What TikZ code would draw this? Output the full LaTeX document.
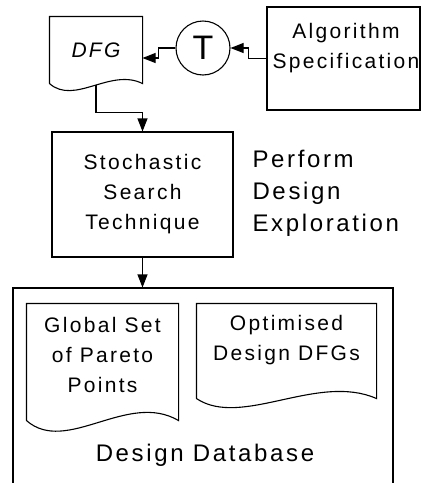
\documentclass[tikz,border=0pt]{standalone}
\usepackage{fontspec}
\setmainfont{Liberation Sans}[LetterSpace=11]
\usetikzlibrary{arrows.meta,calc}
\begin{document}
\begin{tikzpicture}[x=1pt,y=-1pt,line width=1.1pt,
  box/.style={draw,rectangle,inner sep=0pt},
  docshape/.style={rectangle,inner sep=0pt},
  txt/.style={font=\fontsize{21}{30}\selectfont,align=center,inner sep=0pt},
  big/.style={font=\fontsize{24}{32}\selectfont,inner sep=0pt},
  arr/.style={-{Triangle[length=13pt,width=10pt]}}]
\useasboundingbox (0,0) rectangle (422,483);
\clip (0,0) rectangle (422,483);
% DFG document
\node[docshape,txt,minimum width=92pt,minimum height=66pt] (dfg) at (96,50) {\itshape DFG};
\draw (dfg.south west) -- (dfg.north west) -- (dfg.north east) -- (dfg.south east)
  .. controls ($(dfg.south east)+(-32,-16)$) and ($(dfg.south west)+(25,22)$) .. (dfg.south west);
% T circle
\node[draw,circle,minimum size=54pt,inner sep=0pt,font=\fontsize{34}{34}\selectfont] (t) at (203,48) {T};
% Algorithm specification
\node[box,minimum width=153pt,minimum height=103pt] (alg) at (343.5,58.5) {};
\node[txt] (algt) at (346,48) {Algorithm\\Specification};
% Stochastic search
\node[box,txt,minimum width=181pt,minimum height=125pt] (sst) at (142.5,194.5) {Stochastic\\Search\\Technique};
\node[big,anchor=west,align=left] (pde) at (252,193) {Perform\\Design\\Exploration};
% Database
\node[box,minimum width=380pt,minimum height=210pt] (db) at (203,393) {};
\node[docshape,minimum width=151pt,minimum height=116pt] (gsp) at (102.5,362) {};
\draw (gsp.south west) -- (gsp.north west) -- (gsp.north east) -- (gsp.south east)
  .. controls ($(gsp.south east)+(-51,-30)$) and ($(gsp.south west)+(40,35)$) .. (gsp.south west);
\node[txt] (gspt) at (102.5,355) {Global Set\\of Pareto\\Points};
\node[docshape,minimum width=179pt,minimum height=94pt] (osd) at (286.5,351) {};
\draw (osd.south west) -- (osd.north west) -- (osd.north east) -- (osd.south east)
  .. controls ($(osd.south east)+(-59,-26)$) and ($(osd.south west)+(45,30)$) .. (osd.south west);
\node[txt] (osdt) at (286.5,340) {Optimised\\Design DFGs};
\node[big] (dbt) at (205,455) {Design Database};
% connectors
\draw[arr] (alg.west) -- ++(-18,0) |- (t.east);
\draw[arr] (t.west) -- ++(-17,0) |- ($(dfg.east)+(0,8)$);
\draw[arr] ($(dfg.south)+(0,1)$) |- ($(sst.north)+(0,-19)$) -- (sst.north);
\draw[arr] (sst.south) -- (sst.south |- db.north);
\end{tikzpicture}
\end{document}
